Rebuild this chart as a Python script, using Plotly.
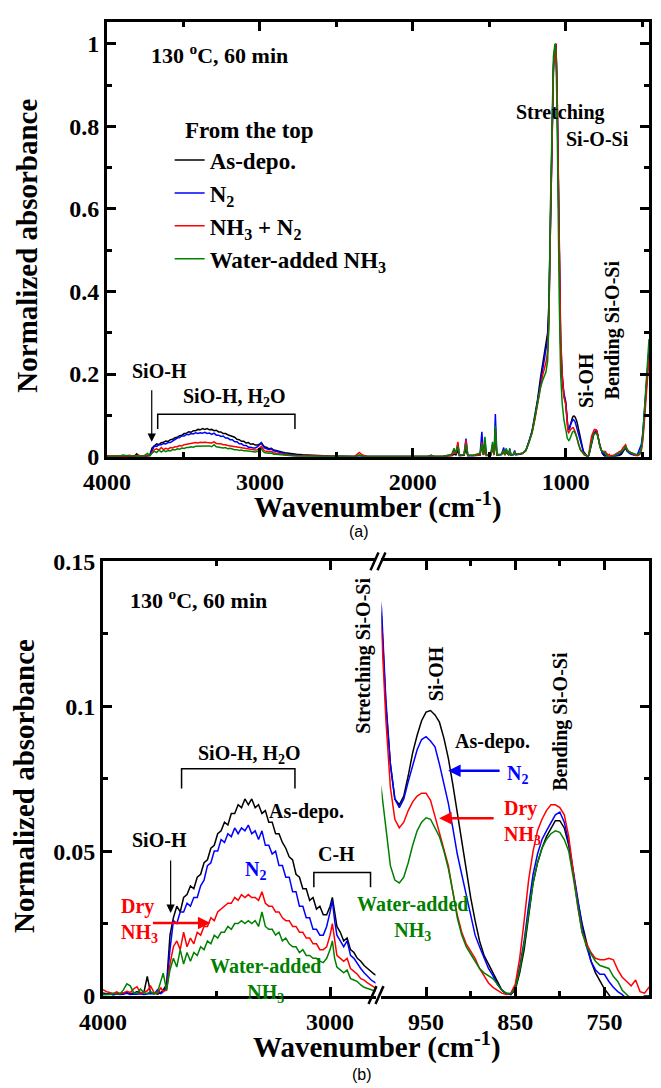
import plotly.graph_objects as go

# ---------------- data (wavenumber in cm-1, normalized absorbance) ----------------
wn_pre = [4000, 3985, 3970, 3955, 3940, 3925, 3910, 3895, 3880, 3865, 3850, 3835, 3820, 3805, 3790, 3775, 3760, 3745, 3735]
black_pre = [0.001, 0.0008, 0.001, 0.0006, 0.0009, 0.0007, 0.001, 0.0012, 0.0008, 0.001, 0.0015, 0.0009, 0.0012, 0.0068, 0.0008, 0.001, 0.0006, 0.0012, 0.002]
blue_pre = [0.0006, 0.0005, 0.0008, 0.0004, 0.0007, 0.0005, 0.0006, 0.0009, 0.0005, 0.0007, 0.0006, 0.0008, 0.0005, 0.0007, 0.0009, 0.0006, 0.0022, 0.0008, 0.0015]
red_pre = [0.0022, 0.0015, 0.0012, 0.0008, 0.0014, 0.0009, 0.0011, 0.0016, 0.0012, 0.0025, 0.0032, 0.0010, 0.0013, 0.0018, 0.0034, 0.0012, 0.0009, 0.0028, 0.0016]
green_pre = [0.0004, 0.0006, 0.0005, 0.0009, 0.0007, 0.0008, 0.0021, 0.0042, 0.0035, 0.0012, 0.0008, 0.0024, 0.0011, 0.0009, 0.0015, 0.0008, 0.0012, 0.0058, 0.0079]

wn_band = [3720, 3705, 3690, 3675, 3660, 3645, 3630, 3615, 3600, 3585, 3570, 3555, 3540, 3525, 3510, 3495,
           3480, 3465, 3450, 3435, 3420, 3405, 3390, 3375, 3360, 3345, 3330, 3315, 3300, 3285, 3270, 3255,
           3240, 3225, 3210, 3195, 3180, 3165, 3150, 3135, 3120, 3105, 3090, 3075, 3060, 3045, 3030, 3015,
           3000, 2990, 2980, 2970, 2955, 2940, 2925, 2910, 2895, 2880, 2865, 2850, 2835, 2820, 2805, 2790]
black_band = [0.004, 0.021, 0.027, 0.031, 0.029, 0.034, 0.035, 0.038, 0.037, 0.041, 0.042, 0.046, 0.047, 0.051, 0.052, 0.056,
              0.057, 0.060, 0.059, 0.063, 0.063, 0.066, 0.065, 0.068, 0.066, 0.068, 0.065, 0.066, 0.063, 0.064, 0.060, 0.060,
              0.056, 0.056, 0.053, 0.051, 0.048, 0.047, 0.042, 0.041, 0.037, 0.037, 0.033, 0.034, 0.030, 0.031, 0.028, 0.028,
              0.031, 0.034, 0.028, 0.024, 0.022, 0.019, 0.020, 0.016, 0.015, 0.013, 0.012, 0.0105, 0.0095, 0.0085, 0.0075, 0.007]
blue_band = [0.003, 0.016, 0.026, 0.025, 0.029, 0.029, 0.032, 0.031, 0.034, 0.034, 0.038, 0.040, 0.045, 0.046, 0.050, 0.050,
             0.054, 0.053, 0.056, 0.055, 0.058, 0.056, 0.058, 0.057, 0.059, 0.056, 0.057, 0.054, 0.057, 0.052, 0.052, 0.049,
             0.050, 0.045, 0.045, 0.041, 0.041, 0.036, 0.036, 0.031, 0.031, 0.027, 0.027, 0.023, 0.023, 0.021, 0.021, 0.024,
             0.029, 0.033, 0.026, 0.021, 0.019, 0.017, 0.019, 0.014, 0.013, 0.011, 0.0095, 0.008, 0.0068, 0.0056, 0.0048, 0.004]
red_band = [0.002, 0.011, 0.017, 0.019, 0.016, 0.022, 0.017, 0.020, 0.018, 0.022, 0.021, 0.024, 0.024, 0.027, 0.026, 0.029,
            0.030, 0.031, 0.032, 0.032, 0.034, 0.033, 0.035, 0.034, 0.035, 0.034, 0.034, 0.033, 0.036, 0.032, 0.031, 0.031,
            0.029, 0.029, 0.027, 0.026, 0.026, 0.024, 0.024, 0.022, 0.022, 0.020, 0.020, 0.018, 0.018, 0.016, 0.016, 0.017,
            0.021, 0.025, 0.019, 0.014, 0.013, 0.012, 0.013, 0.0095, 0.0085, 0.0075, 0.006, 0.0055, 0.0045, 0.0036, 0.003, 0.0027]
green_band = [0.002, 0.009, 0.013, 0.010, 0.016, 0.011, 0.015, 0.012, 0.015, 0.014, 0.017, 0.016, 0.019, 0.018, 0.021, 0.020,
              0.022, 0.022, 0.024, 0.023, 0.025, 0.025, 0.026, 0.025, 0.026, 0.025, 0.026, 0.024, 0.029, 0.024, 0.023, 0.023,
              0.021, 0.022, 0.019, 0.020, 0.018, 0.017, 0.017, 0.015, 0.016, 0.014, 0.014, 0.013, 0.013, 0.012, 0.0115, 0.013,
              0.016, 0.019, 0.013, 0.010, 0.009, 0.008, 0.009, 0.006, 0.0055, 0.005, 0.0038, 0.003, 0.0026, 0.0021, 0.0018, 0.0015]

wn_mid = [2760, 2720, 2680, 2620, 2550, 2450, 2380, 2350, 2330, 2300, 2200, 2050, 1900, 1880, 1860, 1800,
          1745, 1730, 1718, 1705, 1695, 1665, 1652, 1640, 1600, 1560, 1548, 1538, 1528, 1518, 1490, 1478,
          1468, 1460, 1450, 1420, 1405, 1398, 1390, 1372, 1366, 1358, 1340, 1334, 1326, 1300]
black_mid = [0.006, 0.0048, 0.0038, 0.0025, 0.0015, 0.0008, 0.0006, 0.003, 0.0015, 0.0005, 0.0004, 0.0005, 0.0006, 0.003, 0.0006, 0.0008,
             0.002, 0.006, 0.004, 0.015, 0.002, 0.003, 0.018, 0.002, 0.002, 0.004, 0.030, 0.004, 0.020, 0.003, 0.004, 0.020,
             0.004, 0.050, 0.004, 0.005, 0.012, 0.004, 0.010, 0.004, 0.012, 0.004, 0.005, 0.010, 0.005, 0.006]
blue_mid = [0.0035, 0.0028, 0.0022, 0.0015, 0.001, 0.0006, 0.0005, 0.003, 0.0012, 0.0004, 0.0004, 0.0004, 0.0005, 0.002, 0.0005, 0.0008,
            0.004, 0.018, 0.006, 0.030, 0.003, 0.004, 0.044, 0.003, 0.003, 0.005, 0.060, 0.004, 0.035, 0.003, 0.005, 0.030,
            0.005, 0.103, 0.004, 0.005, 0.022, 0.004, 0.018, 0.004, 0.020, 0.004, 0.005, 0.015, 0.005, 0.006]
red_mid = [0.0023, 0.0018, 0.0014, 0.001, 0.0008, 0.0006, 0.001, 0.010, 0.004, 0.0008, 0.0005, 0.0004, 0.0006, 0.002, 0.0006, 0.001,
           0.003, 0.012, 0.008, 0.036, 0.004, 0.005, 0.040, 0.003, 0.003, 0.004, 0.035, 0.004, 0.025, 0.003, 0.004, 0.020,
           0.004, 0.060, 0.005, 0.006, 0.015, 0.004, 0.012, 0.005, 0.015, 0.005, 0.006, 0.012, 0.006, 0.007]
green_mid = [0.0012, 0.001, 0.0008, 0.0006, 0.0005, 0.0004, 0.0005, 0.004, 0.0015, 0.0004, 0.0004, 0.0005, 0.0006, 0.003, 0.0006, 0.001,
             0.006, 0.020, 0.010, 0.025, 0.004, 0.005, 0.030, 0.003, 0.004, 0.008, 0.030, 0.005, 0.048, 0.004, 0.005, 0.036,
             0.005, 0.075, 0.005, 0.006, 0.015, 0.005, 0.020, 0.005, 0.018, 0.005, 0.006, 0.012, 0.006, 0.007]

wn_peak = [1280, 1260, 1240, 1220, 1200, 1183, 1165, 1150, 1140, 1129, 1118, 1110, 1100, 1090, 1080, 1070,
           1064, 1057, 1050, 1042, 1033, 1023, 1012]
black_peak = [0.008, 0.016, 0.036, 0.062, 0.10, 0.14, 0.19, 0.228, 0.252, 0.272, 0.30, 0.37, 0.60, 0.82, 0.95, 0.995,
              1.0, 0.90, 0.68, 0.45, 0.27, 0.19, 0.15]
blue_peak = [0.008, 0.015, 0.035, 0.060, 0.097, 0.135, 0.182, 0.215, 0.238, 0.256, 0.285, 0.35, 0.57, 0.80, 0.94, 0.99,
             1.0, 0.91, 0.70, 0.47, 0.28, 0.20, 0.155]
red_peak = [0.008, 0.014, 0.033, 0.057, 0.093, 0.13, 0.172, 0.198, 0.212, 0.228, 0.255, 0.32, 0.55, 0.78, 0.93, 0.99,
            1.0, 0.92, 0.72, 0.50, 0.30, 0.20, 0.145]
green_peak = [0.008, 0.015, 0.034, 0.058, 0.095, 0.132, 0.167, 0.185, 0.195, 0.205, 0.232, 0.32, 0.60, 0.84, 0.97, 1.0,
              0.98, 0.85, 0.60, 0.38, 0.20, 0.13, 0.09]

wn_right = [1000, 995, 990, 985, 980, 975, 970, 965, 960, 955, 950, 945, 940, 935, 930, 925, 920, 915, 910, 905,
            900, 895, 890, 885, 880, 875, 870, 865, 860, 855, 850, 845, 840, 835, 830, 825, 820, 815, 810, 805,
            800, 795, 790, 785, 780, 775, 770, 765, 760, 755, 750, 745, 740, 735, 730, 725, 720, 715, 710, 705, 700]
black_right = [0.131, 0.100, 0.080, 0.068, 0.066, 0.069, 0.076, 0.084, 0.090, 0.095, 0.098, 0.0985, 0.097, 0.0945, 0.089, 0.082, 0.073, 0.063, 0.053, 0.043,
               0.034, 0.026, 0.019, 0.014, 0.011, 0.008, 0.0045, 0.002, 0.0008, 0.0005, 0.002, 0.008, 0.016, 0.028, 0.039, 0.046, 0.051, 0.055, 0.058, 0.0605,
               0.0605, 0.058, 0.052, 0.042, 0.033, 0.025, 0.018, 0.012, 0.008, 0.005, 0.0025, 0.0005, -0.002, -0.003, -0.003, -0.002, -0.002, -0.001, -0.001, 0.0, 0.0]
blue_right = [0.134, 0.102, 0.080, 0.068, 0.065, 0.068, 0.074, 0.080, 0.085, 0.0885, 0.0895, 0.088, 0.086, 0.080, 0.073, 0.0665, 0.058, 0.049, 0.042, 0.035,
              0.027, 0.021, 0.017, 0.013, 0.0095, 0.007, 0.004, 0.002, 0.0008, 0.0005, 0.003, 0.010, 0.019, 0.031, 0.042, 0.049, 0.054, 0.057, 0.060, 0.0625,
              0.0635, 0.060, 0.053, 0.043, 0.033, 0.024, 0.017, 0.012, 0.009, 0.0075, 0.0075, 0.005, 0.003, 0.0015, 0.0005, -0.001, -0.002, -0.002, -0.001, -0.001, 0.0]
red_right = [0.1265, 0.095, 0.072, 0.061, 0.058, 0.060, 0.064, 0.067, 0.069, 0.070, 0.070, 0.0675, 0.062, 0.0565, 0.051, 0.045, 0.036, 0.028, 0.022, 0.018,
             0.0155, 0.013, 0.0095, 0.007, 0.0045, 0.003, 0.002, 0.001, 0.0005, 0.001, 0.004, 0.013, 0.026, 0.040, 0.050, 0.057, 0.061, 0.064, 0.066, 0.066,
             0.065, 0.0625, 0.055, 0.043, 0.031, 0.022, 0.018, 0.015, 0.013, 0.0125, 0.0125, 0.013, 0.0125, 0.009, 0.0065, 0.005, 0.0035, 0.0055, 0.0015, 0.001, 0.003]
green_right = [0.0709, 0.057, 0.045, 0.040, 0.039, 0.041, 0.046, 0.052, 0.057, 0.060, 0.0615, 0.061, 0.058, 0.055, 0.050, 0.044, 0.036, 0.027, 0.021, 0.017,
               0.0145, 0.012, 0.0095, 0.008, 0.007, 0.006, 0.004, 0.002, 0.001, 0.0008, 0.0025, 0.009, 0.018, 0.029, 0.039, 0.046, 0.051, 0.054, 0.056, 0.057,
               0.0565, 0.054, 0.050, 0.041, 0.031, 0.022, 0.017, 0.0145, 0.012, 0.0105, 0.010, 0.0095, 0.0068, 0.005, 0.002, 0.0005, -0.001, -0.002, -0.002, -0.001, -0.001]

wn_low = [690, 680, 665, 650, 635, 625, 615, 608, 600, 590, 575, 560, 545, 530, 515, 505, 495, 485, 475, 465, 455]
black_low = [0.0005, 0.001, 0.002, 0.003, 0.006, 0.012, 0.018, 0.022, 0.014, 0.012, 0.008, 0.007, 0.004, 0.003, 0.008, 0.020, 0.050, 0.10, 0.16, 0.22, 0.26]
blue_low = [0.0005, 0.002, 0.003, 0.005, 0.010, 0.015, 0.020, 0.024, 0.016, 0.010, 0.006, 0.004, 0.003, 0.006, 0.018, 0.030, 0.060, 0.11, 0.17, 0.225, 0.26]
red_low = [0.003, 0.005, 0.008, 0.012, 0.015, 0.022, 0.025, 0.029, 0.020, 0.014, 0.010, 0.006, 0.003, 0.002, 0.005, 0.015, 0.040, 0.085, 0.14, 0.20, 0.24]
green_low = [0.0005, 0.003, 0.006, 0.008, 0.012, 0.016, 0.020, 0.026, 0.018, 0.013, 0.010, 0.008, 0.005, 0.004, 0.008, 0.020, 0.055, 0.11, 0.18, 0.245, 0.285]

series_names = ["As-depo.", "N<sub>2</sub>", "NH<sub>3</sub> + N<sub>2</sub>", "Water-added NH<sub>3</sub>"]
series_colors = ["#000000", "#0000ff", "#ff0000", "#008000"]

wn = wn_pre + wn_band + wn_mid + wn_peak + wn_right + wn_low
series_values = [
    black_pre + black_band + black_mid + black_peak + black_right + black_low,
    blue_pre + blue_band + blue_mid + blue_peak + blue_right + blue_low,
    red_pre + red_band + red_mid + red_peak + red_right + red_low,
    green_pre + green_band + green_mid + green_peak + green_right + green_low,
]
for v in series_values:
    assert len(v) == len(wn), (len(v), len(wn))

# ---------------- layout geometry (pixels) ----------------
FW, FH = 661, 1088
L, R, T, B = 103, 652, 10, 996
W, H = R - L, B - T


def px(x):
    return (x - L) / W


def py(y):
    return 1 - (y - T) / H


SERIF = "Liberation Serif"
SANS = "Liberation Sans"

fig = go.Figure()
for name, color, ys in zip(series_names, series_colors, series_values):
    fig.add_trace(go.Scatter(x=wn, y=ys, xaxis="x", yaxis="y", mode="lines", name=name,
                             line=dict(color=color, width=1.5), legendgroup=name))
    fig.add_trace(go.Scatter(x=wn, y=ys, xaxis="x2", yaxis="y2", mode="lines", name=name,
                             line=dict(color=color, width=1.5), legendgroup=name, showlegend=False))
    fig.add_trace(go.Scatter(x=wn, y=ys, xaxis="x3", yaxis="y3", mode="lines", name=name,
                             line=dict(color=color, width=1.5), legendgroup=name, showlegend=False))

tickfont = dict(family=SERIF, size=24, color="black", weight="bold")
common = dict(showline=True, linewidth=3, linecolor="black", ticks="inside", ticklen=9, tickwidth=3,
              tickcolor="black", showgrid=False, zeroline=False, tickfont=tickfont)
minor_common = dict(ticks="inside", ticklen=5, tickwidth=2.5, tickcolor="black", showgrid=False)

fig.update_layout(
    width=FW, height=FH,
    margin=dict(l=L, r=FW - R, t=T, b=FH - B),
    paper_bgcolor="white", plot_bgcolor="white",
    showlegend=True,
    legend=dict(x=px(170), y=py(128), xanchor="left", yanchor="top",
                font=dict(family=SERIF, size=23, color="black", weight="bold"),
                bgcolor="rgba(0,0,0,0)", tracegroupgap=0),
    xaxis=dict(domain=[px(107), 1], range=[4000, 455], anchor="y", mirror="ticks", tick0=0, dtick=1000,
               ticklabelstandoff=2, minor=dict(dtick=500, **minor_common), **common),
    yaxis=dict(domain=[py(450), 1], range=[0, 1.053], anchor="x", mirror="ticks", tick0=0, dtick=0.2,
               ticklabelstandoff=0, minor=dict(dtick=0.1, **minor_common), **common),
    xaxis2=dict(domain=[0, px(377)], range=[4000, 2800], anchor="y2", mirror="ticks", tick0=0, dtick=1000,
                ticklabelstandoff=2, minor=dict(dtick=500, **minor_common), **common),
    yaxis2=dict(domain=[0, py(556)], range=[0, 0.15], anchor="x2", side="left", tick0=0, dtick=0.05,
                ticklabelstandoff=0, minor=dict(dtick=0.025, **minor_common), **common),
    xaxis3=dict(domain=[px(383), 1], range=[1000, 700], anchor="y3", mirror="ticks", tick0=950, dtick=100,
                ticklabelstandoff=2, minor=dict(tick0=950, dtick=50, **minor_common), **common),
    yaxis3=dict(domain=[0, py(556)], range=[0, 0.15], anchor="x3", side="right", tick0=0, dtick=0.05,
                showticklabels=False, minor=dict(dtick=0.025, **minor_common), **common),
)

annotations = []


def text(t, x, y, size=20, color="black", xanchor="center", yanchor="middle", angle=0, align="center",
         family=SERIF, bold=True):
    f = dict(family=family, size=size, color=color)
    if bold:
        f["weight"] = "bold"
    annotations.append(dict(text=t, x=px(x), y=py(y), xref="paper", yref="paper", showarrow=False,
                            xanchor=xanchor, yanchor=yanchor, textangle=angle, align=align, font=f))


def arrow(hx, hy, tx, ty, color="black", width=1.2, head=2, size=1.4):
    annotations.append(dict(text="", x=px(hx), y=py(hy), xref="paper", yref="paper", showarrow=True,
                            ax=tx - hx, ay=ty - hy, arrowhead=head, arrowsize=size, arrowwidth=width,
                            arrowcolor=color, standoff=0, startstandoff=0))


# axis titles
text("Normalized absorbance", 27, 236, size=29, angle=-90)
text("Wavenumber (cm<sup>-1</sup>)", 380, 499, size=29)
text("(a)", 360, 526, size=16, family=SANS, bold=False)
text("Normalized absorbance", 23, 783, size=29, angle=-90)
text("Wavenumber (cm<sup>-1</sup>)", 379, 1046, size=29)
text("(b)", 363, 1075, size=16, family=SANS, bold=False)

# panel (a) labels
text("130 <sup>o</sup>C, 60 min", 149, 42, size=22, xanchor="left")
text("From the top", 183, 120, size=23, xanchor="left")
text("Stretching", 516, 102, xanchor="left")
text("Si-O-Si", 567, 128, xanchor="left")
text("Si-OH", 588, 373, angle=-90)
text("Bending Si-O-Si", 615, 322, angle=-90)
text("SiO-H", 160, 363)
text("SiO-H, H<sub>2</sub>O", 235, 390)
arrow(152, 435, 152, 382)

# panel (b) labels
text("130 <sup>o</sup>C, 60 min", 128, 594, size=22, xanchor="left")
text("Stretching Si-O-Si", 365, 652, angle=-90)
text("Si-OH", 438, 670, angle=-90)
text("As-depo.", 495, 738)
text("N<sub>2</sub>", 507, 772, color="#0000ff", xanchor="left")
arrow(450, 768, 503, 768, color="#0000ff", width=2.5, head=2, size=1)
text("Dry<br>NH<sub>3</sub>", 504, 820, color="#ff0000", xanchor="left", align="left")
arrow(441, 816, 497, 816, color="#ff0000", width=2.5, head=2, size=1)
text("Bending Si-O-Si", 563, 718, angle=-90)
text("SiO-H, H<sub>2</sub>O", 250, 752)
text("As-depo.", 308, 809)
text("N<sub>2</sub>", 256, 869, color="#0000ff")
text("SiO-H", 160, 838)
arrow(171, 912, 171, 858)
text("C-H", 338, 852)
text("Dry<br>NH<sub>3</sub>", 119, 920, color="#ff0000", xanchor="left", align="left")
arrow(211, 922, 152, 922, color="#ff0000", width=2.5, head=2, size=1)
text("Water-added<br>NH<sub>3</sub>", 414, 918, color="#008000")
text("Water-added<br>NH<sub>3</sub>", 266, 980, color="#008000")

fig.update_layout(annotations=annotations)


def bracket(x1, x2, ytop, yend, w=1.5):
    return dict(type="path", xref="paper", yref="paper",
                path=f"M {px(x1)},{py(yend)} L {px(x1)},{py(ytop)} L {px(x2)},{py(ytop)} L {px(x2)},{py(yend)}",
                line=dict(color="black", width=w))


def seg(x0, y0, x1, y1, w=2.5):
    return dict(type="line", xref="paper", yref="paper", x0=px(x0), y0=py(y0), x1=px(x1), y1=py(y1),
                line=dict(color="black", width=w))


shapes = [
    bracket(158, 296, 407, 422),
    bracket(182, 296, 766, 786),
    bracket(315, 372, 871, 886),
    seg(370, 1004, 378, 986), seg(377, 1004, 385, 986),
    seg(372, 565, 380, 547), seg(379, 565, 387, 547),
]
fig.update_layout(shapes=shapes)

fig.write_html("out.html", config={"displayModeBar": False},
               post_script="document.body.style.margin='0px';")
